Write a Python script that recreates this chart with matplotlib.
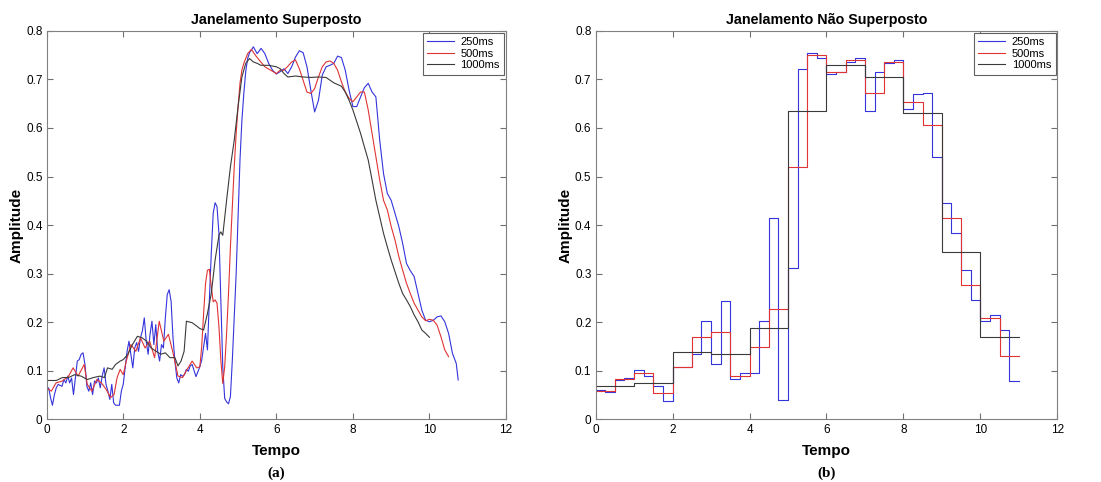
import numpy as np
import matplotlib.pyplot as plt

plt.rcParams['font.family'] = ['Liberation Sans', 'DejaVu Sans']

# --- janelamento superposto (curvas suavizadas) ---
t_250 = [0.0, 0.05, 0.1, 0.15, 0.2, 0.25, 0.3, 0.4, 0.45, 0.5, 0.55, 0.6, 0.65, 0.7, 0.75,
         0.8, 0.85, 0.9, 0.95, 1.0, 1.05, 1.1, 1.15, 1.2, 1.25, 1.3, 1.35, 1.4, 1.45, 1.5,
         1.55, 1.6, 1.65, 1.7, 1.75, 1.8, 1.9, 1.95, 2.0, 2.05, 2.1, 2.15, 2.2, 2.25, 2.3,
         2.35, 2.4, 2.45, 2.5, 2.55, 2.6, 2.65, 2.7, 2.75, 2.8, 2.85, 2.9, 2.95, 3.0, 3.05,
         3.1, 3.15, 3.2, 3.25, 3.3, 3.35, 3.4, 3.45, 3.5, 3.55, 3.6, 3.65, 3.7, 3.75, 3.8,
         3.9, 4.0, 4.05, 4.15, 4.2, 4.25, 4.3, 4.35, 4.4, 4.45, 4.5, 4.55, 4.6, 4.65, 4.7,
         4.75, 4.8, 4.85, 4.9, 4.95, 5.0, 5.05, 5.1, 5.15, 5.2, 5.25, 5.3, 5.4, 5.5, 5.6,
         5.7, 5.8, 5.9, 6.0, 6.1, 6.2, 6.3, 6.4, 6.5, 6.6, 6.7, 6.8, 6.9, 7.0, 7.1, 7.2,
         7.3, 7.4, 7.5, 7.6, 7.7, 7.8, 7.9, 8.0, 8.1, 8.2, 8.3, 8.4, 8.5, 8.6, 8.7, 8.8,
         8.9, 9.0, 9.1, 9.2, 9.3, 9.4, 9.5, 9.6, 9.7, 9.8, 9.9, 10.0, 10.1, 10.2, 10.3,
         10.4, 10.5, 10.6, 10.7, 10.75]
a_250 = [0.058, 0.065, 0.045, 0.029, 0.05, 0.065, 0.072, 0.068, 0.082, 0.075, 0.089, 0.075,
         0.085, 0.051, 0.085, 0.12, 0.123, 0.134, 0.137, 0.113, 0.068, 0.058, 0.075, 0.051,
         0.079, 0.075, 0.085, 0.065, 0.089, 0.106, 0.072, 0.058, 0.041, 0.072, 0.034, 0.029,
         0.029, 0.058, 0.072, 0.106, 0.14, 0.161, 0.134, 0.106, 0.147, 0.158, 0.14, 0.168,
         0.182, 0.209, 0.161, 0.134, 0.175, 0.202, 0.154, 0.195, 0.14, 0.12, 0.154, 0.147,
         0.209, 0.257, 0.267, 0.243, 0.168, 0.12, 0.085, 0.075, 0.092, 0.089, 0.092, 0.103,
         0.099, 0.11, 0.113, 0.088, 0.108, 0.122, 0.177, 0.143, 0.246, 0.342, 0.424, 0.446,
         0.438, 0.383, 0.246, 0.108, 0.043, 0.036, 0.032, 0.047, 0.122, 0.211, 0.30, 0.417,
         0.534, 0.616, 0.671, 0.716, 0.743, 0.755, 0.767, 0.753, 0.764, 0.753, 0.733, 0.719,
         0.711, 0.716, 0.722, 0.712, 0.726, 0.746, 0.759, 0.755, 0.726, 0.678, 0.633, 0.657,
         0.709, 0.726, 0.729, 0.733, 0.748, 0.745, 0.719, 0.678, 0.644, 0.644, 0.664, 0.683,
         0.692, 0.674, 0.664, 0.575, 0.506, 0.465, 0.451, 0.424, 0.397, 0.362, 0.321, 0.306,
         0.294, 0.259, 0.225, 0.204, 0.201, 0.204, 0.211, 0.213, 0.201, 0.177, 0.136, 0.115,
         0.081]

t_500 = [0.0, 0.12, 0.245, 0.41, 0.57, 0.69, 0.82, 0.98, 1.06, 1.18, 1.31, 1.43, 1.55, 1.67,
         1.76, 1.84, 1.92, 2.0, 2.08, 2.2, 2.33, 2.45, 2.57, 2.69, 2.82, 2.94, 3.06, 3.18,
         3.31, 3.43, 3.55, 3.67, 3.8, 3.92, 4.0, 4.05, 4.1, 4.15, 4.2, 4.25, 4.3, 4.35, 4.4,
         4.45, 4.5, 4.55, 4.6, 4.65, 4.7, 4.75, 4.8, 4.85, 4.9, 4.95, 5.0, 5.05, 5.1, 5.15,
         5.25, 5.35, 5.45, 5.55, 5.7, 5.85, 6.0, 6.1, 6.2, 6.3, 6.4, 6.5, 6.6, 6.7, 6.8, 6.9,
         7.0, 7.1, 7.2, 7.3, 7.4, 7.5, 7.6, 7.7, 7.8, 7.9, 8.0, 8.1, 8.2, 8.3, 8.4, 8.5, 8.6,
         8.7, 8.8, 8.9, 9.0, 9.1, 9.2, 9.3, 9.4, 9.5, 9.6, 9.7, 9.8, 9.9, 10.0, 10.1, 10.2,
         10.3, 10.4, 10.5]
a_500 = [0.065, 0.058, 0.075, 0.079, 0.089, 0.106, 0.089, 0.113, 0.072, 0.058, 0.082, 0.075,
         0.062, 0.045, 0.051, 0.086, 0.103, 0.092, 0.12, 0.154, 0.14, 0.168, 0.147, 0.161,
         0.127, 0.202, 0.161, 0.175, 0.134, 0.089, 0.086, 0.103, 0.12, 0.106, 0.108, 0.15,
         0.218, 0.28, 0.307, 0.309, 0.273, 0.242, 0.246, 0.239, 0.191, 0.122, 0.074, 0.108,
         0.177, 0.259, 0.355, 0.438, 0.52, 0.589, 0.644, 0.692, 0.719, 0.733, 0.753, 0.762,
         0.75, 0.74, 0.726, 0.719, 0.712, 0.719, 0.719, 0.727, 0.736, 0.74, 0.722, 0.698,
         0.674, 0.671, 0.681, 0.705, 0.726, 0.736, 0.738, 0.733, 0.719, 0.695, 0.674, 0.661,
         0.654, 0.664, 0.674, 0.674, 0.637, 0.589, 0.541, 0.493, 0.451, 0.431, 0.397, 0.369,
         0.335, 0.307, 0.28, 0.259, 0.239, 0.225, 0.211, 0.203, 0.206, 0.204, 0.194, 0.17,
         0.143, 0.129]

t_1000 = [0.0, 0.25, 0.41, 0.57, 0.73, 0.9, 1.06, 1.22, 1.39, 1.51, 1.59, 1.71, 1.8, 1.92,
          2.0, 2.12, 2.24, 2.37, 2.49, 2.61, 2.73, 2.86, 2.98, 3.1, 3.22, 3.35, 3.43, 3.51,
          3.59, 3.65, 3.8, 3.92, 4.0, 4.1, 4.2, 4.3, 4.4, 4.5, 4.55, 4.6, 4.7, 4.8, 4.9, 5.0,
          5.1, 5.2, 5.3, 5.4, 5.5, 5.6, 5.8, 6.0, 6.1, 6.2, 6.3, 6.5, 6.7, 6.9, 7.1, 7.3,
          7.5, 7.7, 7.8, 7.9, 8.0, 8.1, 8.2, 8.3, 8.4, 8.5, 8.6, 8.7, 8.8, 8.9, 9.0, 9.1,
          9.2, 9.3, 9.4, 9.5, 9.6, 9.7, 9.8, 9.9, 10.0]
a_1000 = [0.08, 0.08, 0.086, 0.086, 0.092, 0.089, 0.082, 0.086, 0.089, 0.086, 0.106, 0.103,
          0.113, 0.12, 0.123, 0.134, 0.154, 0.171, 0.168, 0.161, 0.147, 0.14, 0.134, 0.137,
          0.127, 0.127, 0.11, 0.12, 0.14, 0.202, 0.199, 0.192, 0.187, 0.184, 0.218, 0.259,
          0.328, 0.379, 0.386, 0.379, 0.451, 0.52, 0.575, 0.644, 0.705, 0.733, 0.743, 0.736,
          0.733, 0.729, 0.729, 0.726, 0.722, 0.712, 0.705, 0.707, 0.705, 0.704, 0.705, 0.704,
          0.693, 0.686, 0.674, 0.657, 0.637, 0.613, 0.589, 0.561, 0.534, 0.493, 0.451, 0.417,
          0.383, 0.355, 0.328, 0.304, 0.28, 0.259, 0.246, 0.232, 0.215, 0.201, 0.184, 0.177,
          0.169]

# --- janelamento nao superposto (uma media por janela) ---
w_250 = [0.060, 0.057, 0.082, 0.086, 0.101, 0.089, 0.069, 0.038, 0.108, 0.108, 0.134, 0.203,
         0.114, 0.244, 0.083, 0.096, 0.095, 0.202, 0.415, 0.040, 0.312, 0.722, 0.755, 0.745,
         0.712, 0.716, 0.736, 0.744, 0.634, 0.716, 0.733, 0.740, 0.640, 0.670, 0.673, 0.541,
         0.446, 0.383, 0.307, 0.246, 0.202, 0.215, 0.184, 0.079]
w_500 = [0.058, 0.084, 0.095, 0.054, 0.108, 0.169, 0.180, 0.089, 0.148, 0.227, 0.519, 0.750,
         0.716, 0.740, 0.673, 0.736, 0.654, 0.607, 0.415, 0.276, 0.208, 0.130]
w_1000 = [0.069, 0.075, 0.138, 0.134, 0.188, 0.634, 0.729, 0.704, 0.630, 0.345, 0.169]

labels = ['250ms', '500ms', '1000ms']
colors = ['#3434dc', '#e03434', '#3a3a3a']
dur = [0.25, 0.5, 1.0]

fig = plt.figure(figsize=(11.01, 4.82), dpi=100)
ax1 = fig.add_axes([0.0424, 0.130, 0.4172, 0.806])
ax2 = fig.add_axes([0.541, 0.130, 0.4193, 0.806])

for t, a, c, lab in zip([t_250, t_500, t_1000], [a_250, a_500, a_1000], colors, labels):
    ax1.plot(t, a, color=c, lw=0.8, label=lab)

for w, d, c, lab in zip([w_250, w_500, w_1000], dur, colors, labels):
    edges = np.arange(len(w) + 1) * d
    ax2.step(edges, list(w) + [w[-1]], where='post', color=c, lw=0.8, label=lab)

for ax, title, tag in [(ax1, 'Janelamento Superposto', '(a)'),
                       (ax2, 'Janelamento Não Superposto', '(b)')]:
    ax.set_xlim(0, 12)
    ax.set_ylim(0, 0.8)
    ax.set_xticks(range(0, 13, 2))
    ax.set_yticks(np.arange(0, 0.81, 0.1))
    ax.set_yticklabels(['0', '0.1', '0.2', '0.3', '0.4', '0.5', '0.6', '0.7', '0.8'])
    ax.tick_params(direction='in', top=True, right=True, labelsize=8.5, length=4,
                   color='#707070', pad=3)
    for s in ax.spines.values():
        s.set_color('#808080')
        s.set_linewidth(0.8)
    ax.set_title(title, fontsize=10.3, fontweight='bold', pad=5)
    ax.set_xlabel('Tempo', fontsize=11, fontweight='bold', labelpad=6)
    ax.set_ylabel('Amplitude', fontsize=11, fontweight='bold', labelpad=2)
    ax.text(0.5, -0.14, tag, transform=ax.transAxes, ha='center', va='center',
            fontsize=11, fontweight='bold', family='Liberation Serif')
    leg = ax.legend(loc='upper right', fontsize=8, borderaxespad=0.15, handlelength=2.4,
                    fancybox=False, framealpha=1, labelspacing=0.15, borderpad=0.4,
                    handletextpad=0.6)
    leg.get_frame().set_edgecolor('#606060')
    leg.get_frame().set_linewidth(0.8)

fig.savefig('out.png', dpi=100)
